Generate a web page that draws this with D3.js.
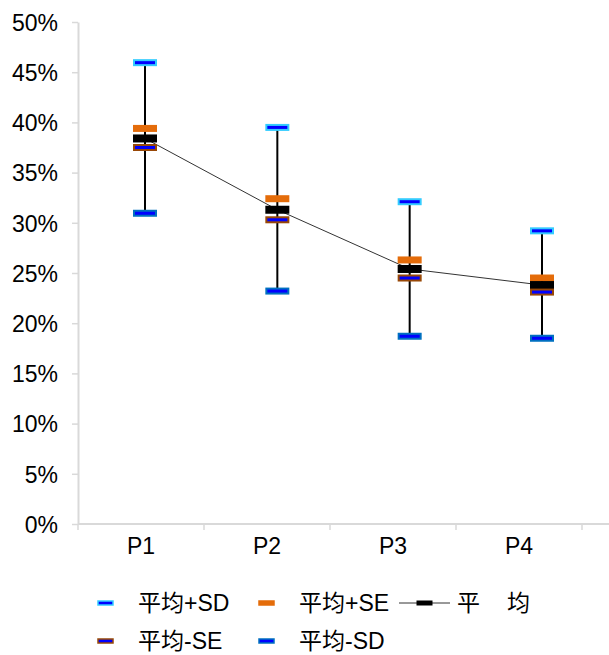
<!DOCTYPE html>
<html>
<head>
<meta charset="utf-8">
<script src="https://cdn.jsdelivr.net/npm/d3@7"></script>
<style>
  body { margin: 0; background: #fff; }
  text { font-family: "Liberation Sans", Arial, "Noto Sans CJK SC", sans-serif; fill: #000; }
</style>
</head>
<body>
<div id="chart"></div>
<script>
// data
var categories = ["P1", "P2", "P3", "P4"];
var meanPlusSD = [0.4595, 0.395, 0.321, 0.292];
var meanPlusSE = [0.394, 0.324, 0.263, 0.245];
var meanVals = [0.384, 0.313, 0.254, 0.238];
var meanMinusSE = [0.375, 0.303, 0.245, 0.231];
var meanMinusSD = [0.3095, 0.232, 0.187, 0.185];
var yTicks = [0, 0.05, 0.1, 0.15, 0.2, 0.25, 0.3, 0.35, 0.4, 0.45, 0.5];

var width = 609, height = 655;
var fs = "23px";
var svg = d3.select("#chart").append("svg")
  .attr("width", width).attr("height", height);

var y = d3.scaleLinear().domain([0, 0.5]).range([524, 22]);
// axis bands
var x = d3.scaleBand().domain(categories).range([78, 582]).paddingInner(0).paddingOuter(0);
// marks sit a bit right of the labels (as in the original)
var xm = d3.scalePoint().domain(categories).range([145, 542]);

var grey = "#d9d9d9";

// y axis
var yAxis = svg.append("g").attr("transform", "translate(78,0)")
  .call(d3.axisLeft(y).tickValues(yTicks).tickSize(6).tickSizeOuter(0)
    .tickFormat(function (d) { return Math.round(d * 100) + "%"; }));
yAxis.select(".domain").attr("stroke", grey).attr("stroke-width", 2);
yAxis.selectAll(".tick line").attr("stroke", grey).attr("stroke-width", 1.5);
yAxis.selectAll(".tick text").attr("x", -20).attr("dy", "0.36em")
  .style("font-size", fs).style("font-family", "Liberation Sans, Arial, sans-serif");

// x axis
svg.append("line").attr("x1", 78).attr("x2", 609).attr("y1", y(0)).attr("y2", y(0))
  .attr("stroke", grey).attr("stroke-width", 2);
var bounds = categories.map(function (c) { return x(c); }).concat([x(categories[3]) + x.bandwidth()]);
svg.selectAll(".xtick").data(bounds).enter().append("line")
  .attr("x1", function (d) { return d; }).attr("x2", function (d) { return d; })
  .attr("y1", y(0)).attr("y2", y(0) + 6)
  .attr("stroke", grey).attr("stroke-width", 1.5);
svg.selectAll(".xlab").data(categories).enter().append("text")
  .attr("x", function (d) { return x(d) + x.bandwidth() / 2; })
  .attr("y", 554)
  .attr("text-anchor", "middle")
  .style("font-size", fs)
  .text(function (d) { return d; });

// error bars
svg.selectAll(".err").data(categories).enter().append("line")
  .attr("x1", function (d) { return xm(d); }).attr("x2", function (d) { return xm(d); })
  .attr("y1", function (d, i) { return y(meanPlusSD[i]); })
  .attr("y2", function (d, i) { return y(meanMinusSD[i]); })
  .attr("stroke", "#000").attr("stroke-width", 2);

// mean line
var line = d3.line()
  .x(function (d, i) { return xm(categories[i]); })
  .y(function (d) { return y(d); });
svg.append("path").datum(meanVals).attr("d", line)
  .attr("fill", "none").attr("stroke", "#333").attr("stroke-width", 1);

var series = [
  { name: "平均+SD", vals: meanPlusSD, fill: "#0000ff", stroke: "#33ccff", h: 5 },
  { name: "平均+SE", vals: meanPlusSE, fill: "#e46c0a", stroke: "#e46c0a", h: 5 },
  { name: "平均", vals: meanVals, fill: "#000", stroke: "#000", h: 6 },
  { name: "平均-SE", vals: meanMinusSE, fill: "#0000ff", stroke: "#984807", h: 5 },
  { name: "平均-SD", vals: meanMinusSD, fill: "#0000ff", stroke: "#0070c0", h: 5 }
];

series.forEach(function (s) {
  svg.selectAll(null).data(s.vals).enter().append("rect")
    .attr("x", function (d, i) { return xm(categories[i]) - 11; })
    .attr("y", function (d) { return y(d) - s.h / 2; })
    .attr("width", 22).attr("height", s.h)
    .attr("fill", s.fill).attr("stroke", s.stroke).attr("stroke-width", 2);
});

// legend
var legend = [
  { s: series[0], x: 98, y: 603 },
  { s: series[1], x: 259, y: 603 },
  { s: series[2], x: 399, y: 603, line: true },
  { s: series[3], x: 98, y: 641 },
  { s: series[4], x: 259, y: 641 }
];
legend.forEach(function (l) {
  var g = svg.append("g");
  if (l.line) {
    g.append("line").attr("x1", l.x).attr("x2", l.x + 51).attr("y1", l.y).attr("y2", l.y)
      .attr("stroke", "#333").attr("stroke-width", 1);
    g.append("rect").attr("x", l.x + 18).attr("y", l.y - 2).attr("width", 15).attr("height", 4)
      .attr("fill", "#000").attr("stroke", "#000").attr("stroke-width", 1);
    g.append("text").attr("x", l.x + 58).attr("y", l.y + 8).style("font-size", fs).text("平");
    g.append("text").attr("x", l.x + 108).attr("y", l.y + 8).style("font-size", fs).text("均");
  } else {
    g.append("rect").attr("x", l.x).attr("y", l.y - 2).attr("width", 15).attr("height", 4)
      .attr("fill", l.s.fill).attr("stroke", l.s.stroke).attr("stroke-width", 1.5);
    g.append("text").attr("x", l.x + 40).attr("y", l.y + 8).style("font-size", fs).text(l.s.name);
  }
});
</script>
</body>
</html>
